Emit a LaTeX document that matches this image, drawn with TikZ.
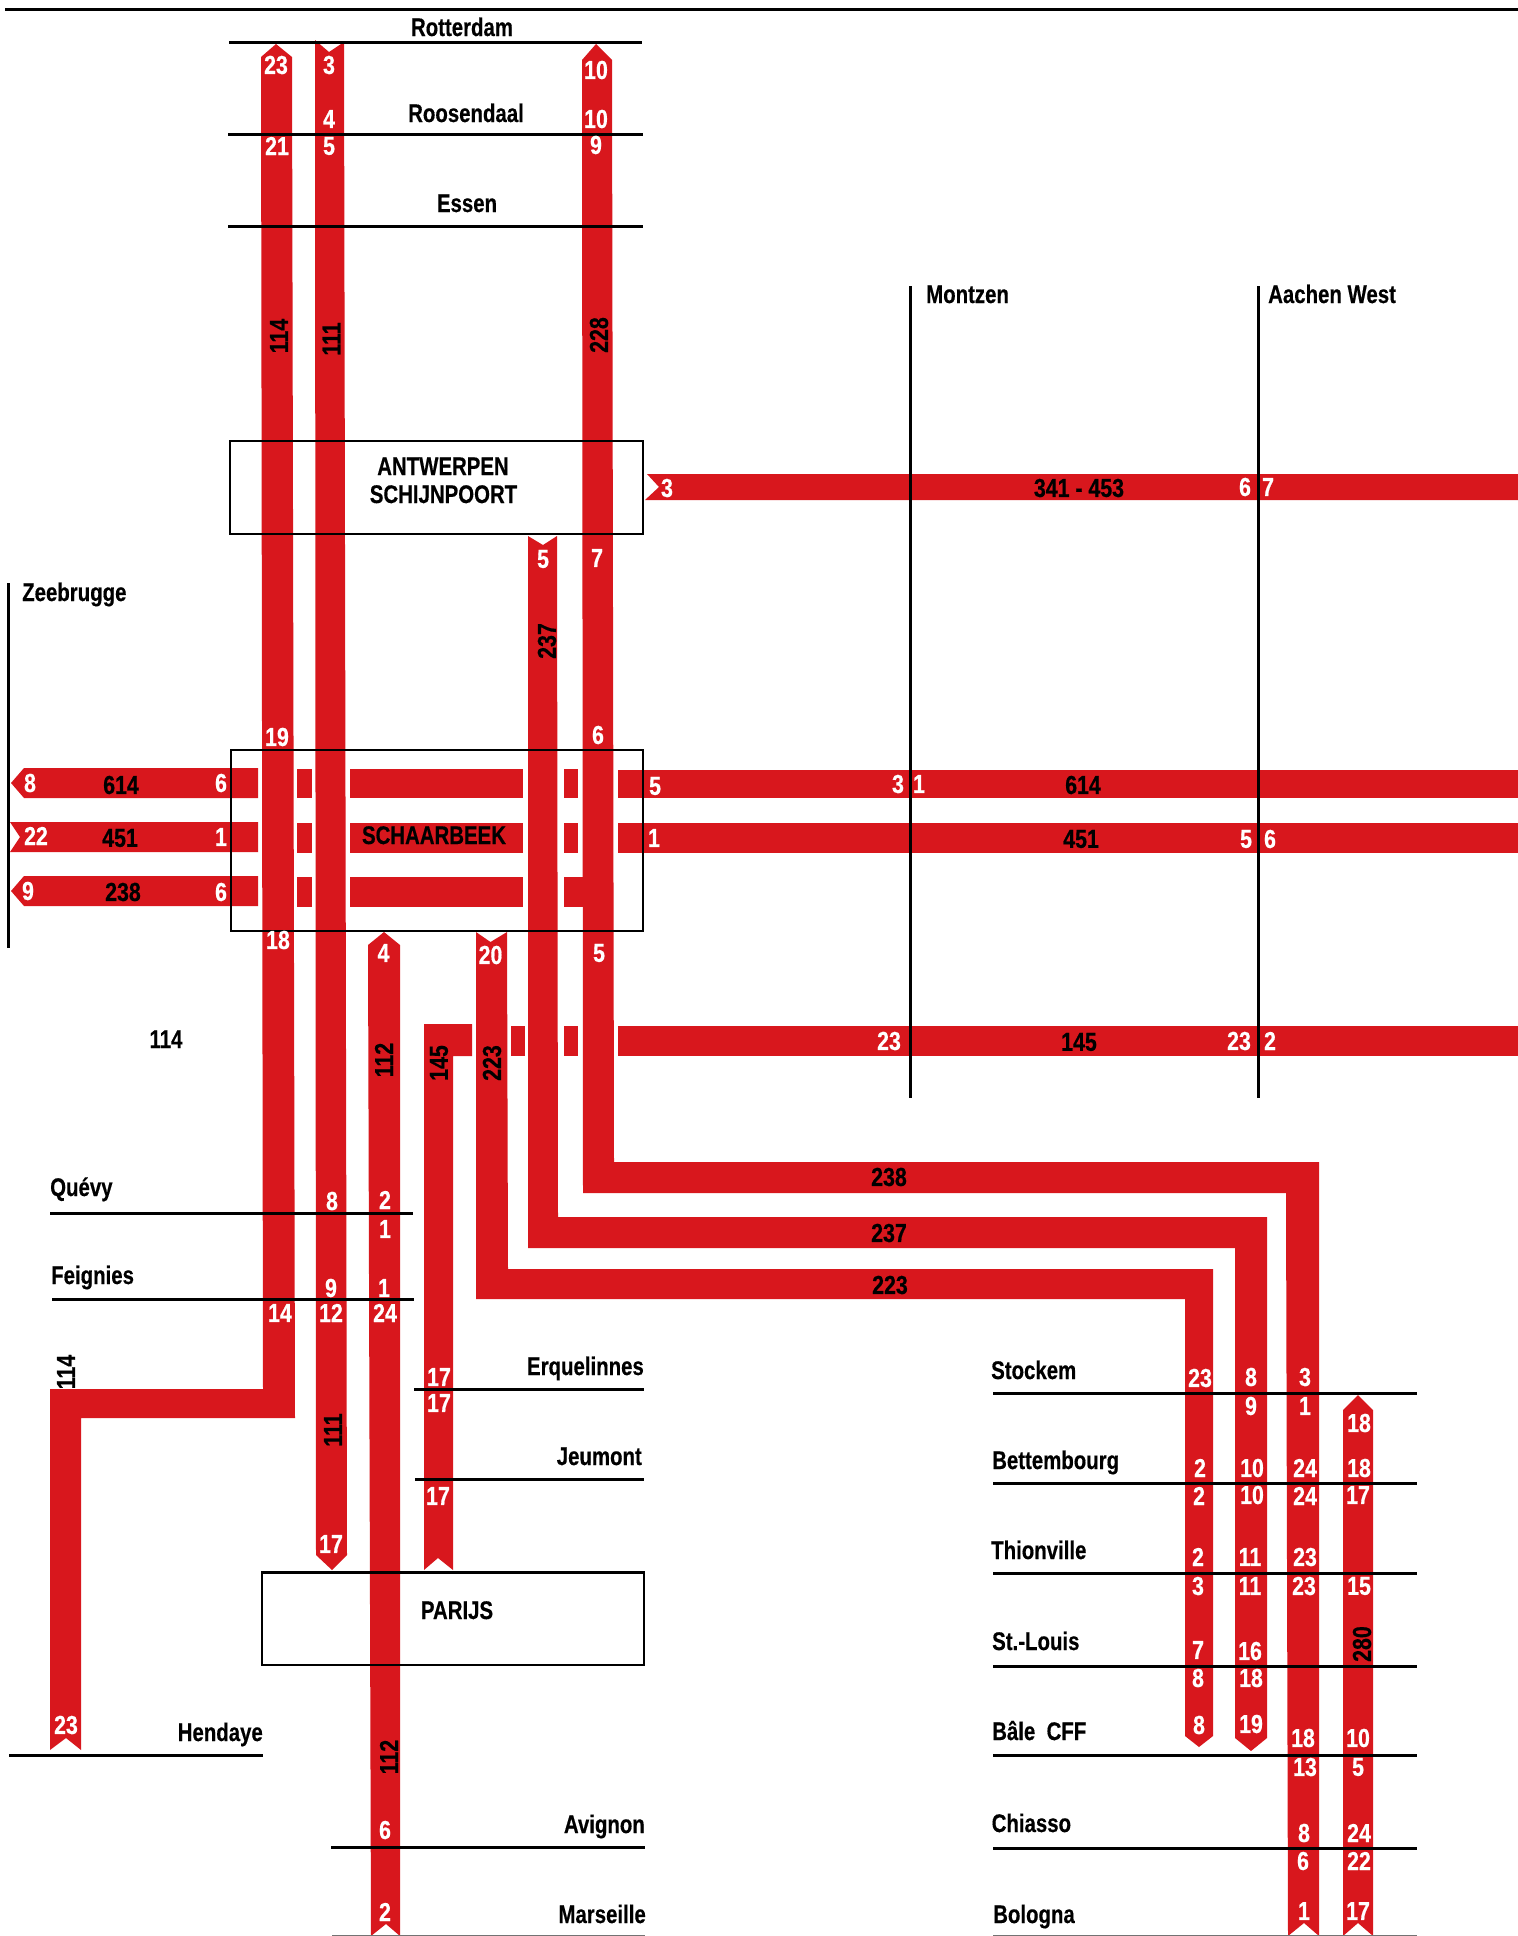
\documentclass[tikz,border=0pt]{standalone}
\usepackage{fontspec}
\newfontfamily\stnfont[FakeStretch=0.80,FakeBold=0.4]{Liberation Sans}
\newfontfamily\numfont[FakeStretch=0.82,FakeBold=0.6]{Liberation Sans}
\definecolor{bandred}{HTML}{D8171D}
\tikzset{
  band/.style={fill=bandred,draw=none},
  rule/.style={draw=black,line width=3pt},
  faint/.style={draw=black!55,line width=1.2pt},
  boxframe/.style={draw=black,line width=2.8pt},
  stn/.style={font=\stnfont\bfseries\fontsize{25.5}{27}\selectfont,text=black,inner sep=0pt},
  wnum/.style={font=\numfont\bfseries\fontsize{26}{28}\selectfont,text=white,inner sep=0pt},
  bnum/.style={font=\numfont\bfseries\fontsize{26}{28}\selectfont,text=black,inner sep=0pt},
}
\begin{document}
\begin{tikzpicture}[x=1pt,y=-1pt]
\useasboundingbox (0,0) rectangle (1518,1936);
% long vertical bands
\fill[band] (276,44)--(292,57)--(295,1418)--(81,1418)--(81,1750)--(66,1738)--(50,1750)--(50,1389)--(263,1389)--(261,57)--cycle;
\fill[band] (315,40)--(329,52)--(344,42)--(347,1555)--(332,1570)--(316,1555)--cycle;
\fill[band] (596,44)--(612,60)--(614,1162)--(1319,1162)--(1319,1936)--(1304,1923)--(1288,1936)--(1286,1193)--(583,1193)--(582,60)--cycle;
\fill[band] (528,536)--(543,545)--(557,536)--(558,1217)--(1267,1217)--(1267,1738)--(1251,1751)--(1235,1738)--(1235,1248)--(528,1248)--cycle;
\fill[band] (476,932)--(490.5,942)--(507,932)--(508,1269)--(1213,1269)--(1213,1736)--(1199,1747)--(1185,1736)--(1185,1299)--(476,1299)--cycle;
\fill[band] (384,932)--(400,945)--(400,1936)--(386,1924)--(371,1936)--(368,945)--cycle;
\fill[band] (424,1024)--(472,1024)--(472,1056)--(453,1056)--(453,1570)--(438,1558)--(424,1570)--cycle;
\fill[band] (1358,1395)--(1373,1410)--(1373,1936)--(1358,1923)--(1343,1936)--(1343,1410)--cycle;
% horizontal bands
\fill[band] (647,474)--(1518,474)--(1518,500)--(645,500)--(659,487)--cycle;
\fill[band] (11,783)--(24,768)--(258,768)--(258,798)--(24,798)--cycle;
\fill[band] (10,822)--(258,822)--(258,852)--(10,852)--(20,837)--cycle;
\fill[band] (11,891)--(24,876)--(258,876)--(258,906)--(24,906)--cycle;
\foreach \ya/\yb in {769/798,823/853,877/907}{
  \fill[band] (297,\ya) rectangle (312,\yb);
  \fill[band] (350,\ya) rectangle (523,\yb);
}
\fill[band] (564,769) rectangle (578,798);
\fill[band] (564,823) rectangle (578,853);
\fill[band] (564,877) rectangle (584,907);
\fill[band] (618,770) rectangle (1518,798);
\fill[band] (618,823) rectangle (1518,853);
\fill[band] (511,1026) rectangle (525,1056);
\fill[band] (564,1026) rectangle (578,1056);
\fill[band] (618,1026) rectangle (1518,1056);
% rules
\draw[rule] (5,9)--(1518,9);
\draw[rule] (229,42.5)--(642,42.5);
\draw[rule] (228,134)--(643,134);
\draw[rule] (228,226)--(643,226);
\draw[rule] (910,286)--(910,1098);
\draw[rule] (1258,286)--(1258,1098);
\draw[rule] (8.5,583)--(8.5,948);
\draw[rule] (50,1213)--(413,1213);
\draw[rule] (52,1299)--(414,1299);
\draw[rule] (414,1389)--(644,1389);
\draw[rule] (415,1479)--(644,1479);
\draw[rule] (9,1755)--(263,1755);
\draw[rule] (331,1847)--(645,1847);
\draw[faint] (332,1935.4)--(645,1935.4);
\foreach \y in {1393,1483.5,1573.5,1666,1755,1848.5}{\draw[rule] (993,\y)--(1417,\y);}
\draw[faint] (993,1935.4)--(1417,1935.4);
% boxes
\draw[boxframe] (230,441) rectangle (643,534);
\draw[boxframe] (231,750) rectangle (643,931);
\draw[boxframe] (262,1572.5) rectangle (644,1665);
% station labels
\foreach \x/\y/\t in {462/36/Rotterdam,466/122/Roosendaal,467/212/Essen,443/475/ANTWERPEN,443.5/503/SCHIJNPOORT,434/844/SCHAARBEEK,166/1048/114,457/1619/PARIJS}
  \node[stn,anchor=base] (s\x-\y) at (\x,\y) {\t};
\foreach \x/\y/\t in {22/601/Zeebrugge,926/303/Montzen,1268/303/Aachen West,50/1196/Quévy,51/1284/Feignies,991/1379/Stockem,992/1469/Bettembourg,991/1559/Thionville,992/1650/St.-Louis,992/1740/Bâle\ \ CFF,991.5/1832/Chiasso,993/1923/Bologna}
  \node[stn,anchor=base west] (s\x-\y) at (\x,\y) {\t};
\foreach \x/\y/\t in {644/1375/Erquelinnes,642/1465/Jeumont,263/1741/Hendaye,645/1833/Avignon,646/1923/Marseille}
  \node[stn,anchor=base east] (s\x-\y) at (\x,\y) {\t};
% white numbers
\foreach \x/\y/\t in {276/65/23,329/65/3,329/119/4,329/146/5,277/146/21,596/70/10,596/119/10,596/145/9,543/559/5,597/558/7,667/488/3,
 277/737/19,598/735/6,30/783/8,221/783/6,36/836/22,221/837/1,28/891/9,221/892/6,655/786/5,654/838/1,278/940/18,383.5/953/4,490.5/955/20,599/953/5,
 1245/487/6,1268/487/7,898/784/3,919/784/1,1246/839/5,1270/839/6,889/1041/23,1239/1041/23,1270/1041/2,
 332/1201/8,385/1200/2,385/1229/1,331/1288/9,384/1288/1,280/1313/14,331/1313/12,385/1313/24,439/1377/17,439/1403/17,438/1496/17,331/1544/17,66/1725/23,385/1830/6,385/1912/2,
 1200/1378/23,1200/1468/2,1199/1496/2,1198/1557/2,1198/1586/3,1198/1650/7,1198/1678/8,1199/1725/8,
 1251/1377/8,1251/1406/9,1252/1468/10,1252/1495/10,1250/1557/11,1250/1586/11,1250/1651/16,1251/1678/18,1251/1724/19,
 1305/1377/3,1305/1406/1,1305/1468/24,1305/1496/24,1305/1557/23,1304/1586/23,1303/1738/18,1305/1767/13,1304/1833/8,1303/1861/6,1304/1911/1,
 1359/1423/18,1359/1468/18,1358/1495/17,1359/1586/15,1358/1738/10,1358/1767/5,1359/1833/24,1359/1861/22,1358/1911/17}
  \node[wnum] (w\x-\y) at (\x,\y) {\t};
% black horizontal numbers
\foreach \x/\y/\t in {121/785/614,120/838/451,123/892/238,1079/488/341 - 453,1083/785/614,1081/839/451,1079/1042/145,889/1177/238,889/1233/237,890/1285/223}
  \node[bnum] (b\x-\y) at (\x,\y) {\t};
% black rotated numbers
\foreach \x/\y/\t in {279/336/114,331.5/339/111,599/335/228,547/641/237,384/1060/112,439/1063/145,492/1063/223,66/1372/114,333/1430/111,389/1757/112,1362/1644/280}
  \node[bnum,rotate=90] (r\x-\y) at (\x,\y) {\t};
\end{tikzpicture}
\end{document}
